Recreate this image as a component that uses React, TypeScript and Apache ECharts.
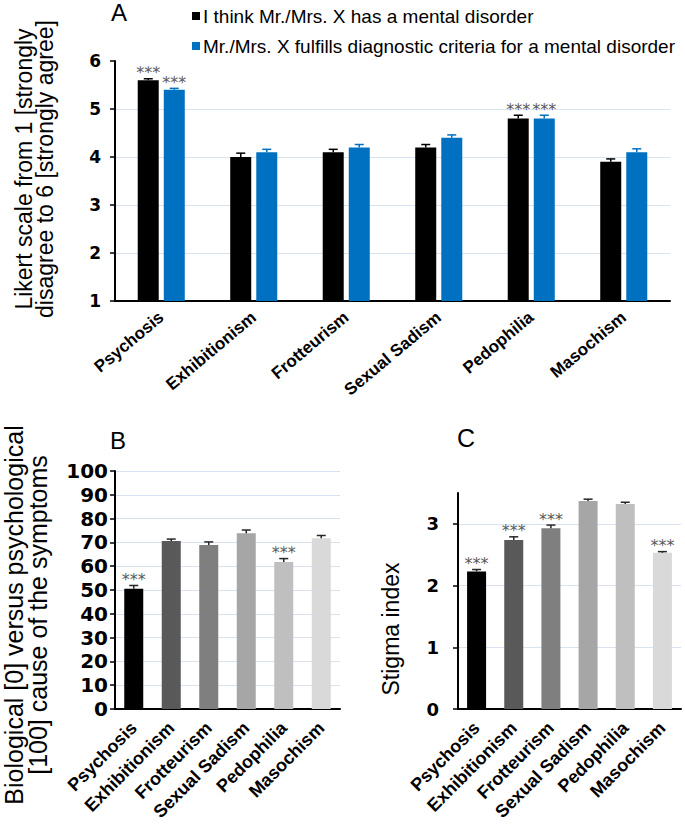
import React, { useEffect, useRef } from 'react';
import * as echarts from 'echarts';

const categories = ['Psychosis', 'Exhibitionism', 'Frotteurism', 'Sexual Sadism', 'Pedophilia', 'Masochism'];
const legendNames = [
  'I think Mr./Mrs. X has a mental disorder',
  'Mr./Mrs. X fulfills diagnostic criteria for a mental disorder',
];

// Panel A
const thinkValues = [5.6, 4.0, 4.1, 4.2, 4.8, 3.9];
const thinkErrors = [0.03, 0.08, 0.06, 0.06, 0.07, 0.06];
const thinkSig = [1, 0, 0, 0, 1, 0];
const criteriaValues = [5.4, 4.1, 4.2, 4.4, 4.8, 4.1];
const criteriaErrors = [0.03, 0.06, 0.06, 0.06, 0.07, 0.07];
const criteriaSig = [1, 0, 0, 0, 1, 0];

// Panel B
const causeValues = [50.5, 70.6, 68.9, 73.8, 61.8, 71.7];
const causeErrors = [1.4, 0.8, 1.3, 1.4, 1.4, 1.2];
const causeSig = [1, 0, 0, 0, 1, 0];

// Panel C
const stigmaValues = [2.23, 2.74, 2.93, 3.37, 3.32, 2.53];
const stigmaErrors = [0.03, 0.05, 0.05, 0.03, 0.03, 0.02];
const stigmaSig = [1, 1, 1, 0, 0, 1];
const stigmaTicks = [0, 1, 2, 3];

const greys = ['#000000', '#595959', '#7f7f7f', '#a6a6a6', '#bfbfbf', '#d9d9d9'];
const BLUE = '#0070c0';
const GRID = '#d9e2f0';
const SANS = 'Liberation Sans, Arial, sans-serif';
const WIDE = 'DejaVu Sans, sans-serif';

function errorSeries(values: number[], errors: number[], sig: number[], idx: number, offset: number, color: string, capHalf: number) {
  return {
    type: 'custom',
    xAxisIndex: idx,
    yAxisIndex: idx,
    silent: true,
    z: 5,
    data: values.map((v, i) => [i, v, errors[i], sig[i]]),
    renderItem: (params: any, api: any) => {
      const i = api.value(0);
      const v = api.value(1);
      const e = api.value(2);
      const s = api.value(3);
      const base = api.coord([i, v]);
      const top = api.coord([i, v + e]);
      const x = base[0] + offset;
      const children: any[] = [
        { type: 'line', shape: { x1: x, y1: base[1], x2: x, y2: top[1] }, style: { stroke: color, lineWidth: 1.5 } },
        { type: 'line', shape: { x1: x - capHalf, y1: top[1], x2: x + capHalf, y2: top[1] }, style: { stroke: color, lineWidth: 1.5 } },
      ];
      if (s) {
        children.push({
          type: 'text',
          x,
          y: top[1] + 2,
          style: { text: '***', fill: '#595959', fontSize: 16, fontFamily: WIDE, align: 'center', verticalAlign: 'bottom' },
        });
      }
      return { type: 'group', children };
    },
  };
}

function catAxis(gridIndex: number, fontSize: number, margin: number, rotate: number) {
  return {
    type: 'category',
    gridIndex,
    data: categories,
    axisLine: { show: true, lineStyle: { color: '#000', width: 2 } },
    axisTick: { show: false },
    axisLabel: { interval: 0, rotate, margin, color: '#000', fontWeight: 'bold', fontSize, fontFamily: SANS },
    splitLine: { show: false },
  };
}

const option: any = {
  animation: false,
  backgroundColor: '#fff',
  title: [
    { text: 'A', left: 111, top: 0, padding: 0, textStyle: { fontSize: 24, fontWeight: 'normal', color: '#000', fontFamily: SANS } },
    { text: 'B', left: 110, top: 428, padding: 0, textStyle: { fontSize: 24, fontWeight: 'normal', color: '#000', fontFamily: SANS } },
    { text: 'C', left: 457, top: 425, padding: 0, textStyle: { fontSize: 25, fontWeight: 'normal', color: '#000', fontFamily: SANS } },
  ],
  legend: {
    orient: 'vertical',
    left: 192,
    top: 6,
    itemWidth: 8,
    itemHeight: 8,
    itemGap: 10,
    icon: 'rect',
    padding: 0,
    data: legendNames,
    textStyle: { fontSize: 19, lineHeight: 20, color: '#000', fontFamily: SANS, padding: [0, 0, 0, -2] },
  },
  grid: [
    { left: 115, top: 61, width: 555, height: 240, outerBoundsMode: 'none', containLabel: false },
    { left: 115, top: 471, width: 225, height: 238, outerBoundsMode: 'none', containLabel: false },
    { left: 458, top: 493, width: 223, height: 216, outerBoundsMode: 'none', containLabel: false },
  ],
  xAxis: [catAxis(0, 17, 14, 40), catAxis(1, 18, 16, 45), catAxis(2, 18, 16, 45)],
  yAxis: [
    {
      type: 'value', gridIndex: 0, min: 1, max: 6, interval: 1,
      name: 'Likert scale from 1 [strongly\ndisagree to 6 [strongly agree]',
      nameLocation: 'middle', nameGap: 60,
      nameTextStyle: { fontSize: 23, lineHeight: 21, color: '#000', fontFamily: SANS, padding: [0, 0, 0, 24] },
      axisLine: { show: true, lineStyle: { color: '#000', width: 2 } },
      axisTick: { show: true, length: 5, lineStyle: { color: '#000', width: 1.5 } },
      axisLabel: { margin: 14, color: '#000', fontWeight: 'bold', fontSize: 17, fontFamily: WIDE },
      splitLine: { show: true, showMaxLine: false, lineStyle: { color: GRID, width: 1 } },
    },
    {
      type: 'value', gridIndex: 1, min: 0, max: 100, interval: 10,
      name: 'Biological [0] versus psychological\n[100] cause of the symptoms',
      nameLocation: 'middle', nameGap: 65,
      nameTextStyle: { fontSize: 25, lineHeight: 24, color: '#000', fontFamily: SANS, padding: [0, 50, 0, 0] },
      axisLine: { show: true, lineStyle: { color: '#000', width: 2 } },
      axisTick: { show: true, length: 5, lineStyle: { color: '#000', width: 1.5 } },
      axisLabel: { margin: 7, color: '#000', fontWeight: 'bold', fontSize: 20, fontFamily: WIDE },
      splitLine: { show: true, lineStyle: { color: GRID, width: 1 } },
    },
    {
      type: 'value', gridIndex: 2, min: 0, max: 3.5, interval: 1,
      name: 'Stigma index',
      nameLocation: 'middle', nameGap: 56,
      nameTextStyle: { fontSize: 23, color: '#000', fontFamily: SANS, padding: [0, 56, 0, 0] },
      axisLine: { show: true, lineStyle: { color: '#000', width: 2 } },
      axisTick: { show: true, length: 5, customValues: stigmaTicks, lineStyle: { color: '#000', width: 1.5 } },
      axisLabel: { margin: 19, color: '#000', fontWeight: 'bold', fontSize: 18, fontFamily: WIDE, customValues: stigmaTicks },
      splitLine: { show: true, lineStyle: { color: GRID, width: 1 } },
    },
  ],
  series: [
    { name: legendNames[0], type: 'bar', xAxisIndex: 0, yAxisIndex: 0, barWidth: 21, barGap: '24%', itemStyle: { color: '#000' }, data: thinkValues },
    { name: legendNames[1], type: 'bar', xAxisIndex: 0, yAxisIndex: 0, barWidth: 21, barGap: '24%', itemStyle: { color: BLUE }, data: criteriaValues },
    errorSeries(thinkValues, thinkErrors, thinkSig, 0, -13, '#000', 4.5),
    errorSeries(criteriaValues, criteriaErrors, criteriaSig, 0, 13, BLUE, 4.5),
    {
      type: 'bar', xAxisIndex: 1, yAxisIndex: 1, barWidth: 19,
      data: causeValues.map((v, i) => ({ value: v, itemStyle: { color: greys[i] } })),
    },
    errorSeries(causeValues, causeErrors, causeSig, 1, 0, '#262626', 4.5),
    {
      type: 'bar', xAxisIndex: 2, yAxisIndex: 2, barWidth: 19,
      data: stigmaValues.map((v, i) => ({ value: v, itemStyle: { color: greys[i] } })),
    },
    errorSeries(stigmaValues, stigmaErrors, stigmaSig, 2, 0, '#262626', 4.5),
  ],
};

export default function App() {
  const ref = useRef<HTMLDivElement>(null);
  useEffect(() => {
    const chart = echarts.init(ref.current as HTMLDivElement, null, { renderer: 'svg' });
    chart.setOption(option);
    return () => chart.dispose();
  }, []);
  return <div ref={ref} style={{ position: 'absolute', left: 0, top: 0, width: 685, height: 830, background: '#fff' }} />;
}
